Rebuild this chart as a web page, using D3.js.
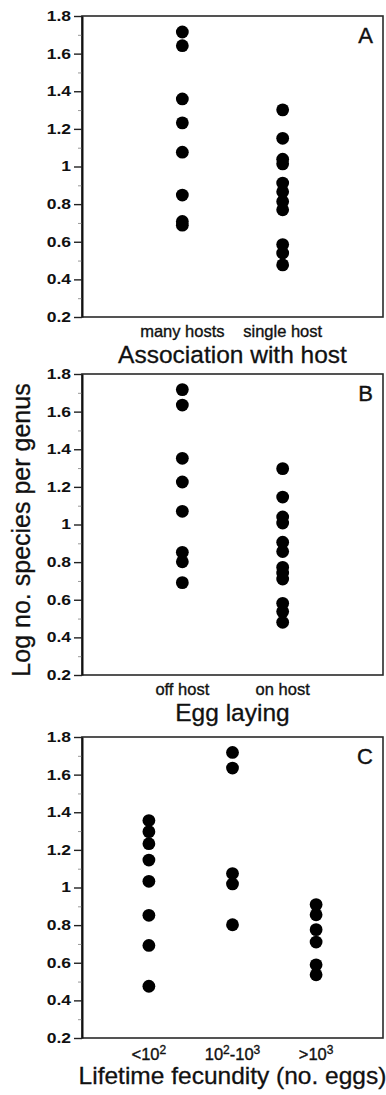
<!DOCTYPE html>
<html><head><meta charset="utf-8">
<script src="https://cdn.jsdelivr.net/npm/d3@7"></script>
<style>body{margin:0;background:#fff}svg{display:block}</style>
</head><body>
<svg id="chart" width="386" height="1095"></svg>
<script>
// ---- data ----
const yTickValues = [0.2, 0.4, 0.6, 0.8, 1.0, 1.2, 1.4, 1.6, 1.8];
const yTickLabels = ["0.2", "0.4", "0.6", "0.8", "1", "1.2", "1.4", "1.6", "1.8"];
const yMinorTicks = [0.3, 0.5, 0.7, 0.9, 1.1, 1.3, 1.5, 1.7];

const categoriesA = ["many hosts", "single host"];
const manyHosts = [1.715, 1.642, 1.359, 1.232, 1.076, 0.848, 0.708, 0.688];
const singleHost = [1.301, 1.150, 1.039, 1.014, 0.912, 0.866, 0.814, 0.770, 0.585, 0.540, 0.477];

const categoriesB = ["off host", "on host"];
const offHost = [1.717, 1.635, 1.352, 1.226, 1.070, 0.852, 0.802, 0.691];
const onHost = [1.297, 1.146, 1.040, 1.008, 0.906, 0.856, 0.772, 0.742, 0.710, 0.581, 0.537, 0.480];

const categoriesC = ["<10^2", "10^2-10^3", ">10^3"];
const fecLow = [1.356, 1.297, 1.233, 1.146, 1.033, 0.852, 0.692, 0.475];
const fecMid = [1.718, 1.635, 1.074, 1.019, 0.802];
const fecHigh = [0.909, 0.855, 0.776, 0.710, 0.589, 0.536];

const panelLetters = ["A", "B", "C"];
const xTitles = ["Association with host", "Egg laying", "Lifetime fecundity (no. eggs)"];
const yTitle = "Log no. species per genus";

// ---- layout ----
const svg = d3.select("#chart");
const left = 82, right = 383, plotH = 301;
const panels = [
  {top: 16,  cats: categoriesA, series: [manyHosts, singleHost], pad: 1.0},
  {top: 374, cats: categoriesB, series: [offHost, onHost], pad: 1.0},
  {top: 737, cats: categoriesC, series: [fecLow, fecMid, fecHigh], pad: 0.8}
];
const font = "'Liberation Sans', Arial, Helvetica, sans-serif";

panels.forEach((p, i) => {
  const g = svg.append("g");
  const y = d3.scaleLinear().domain([0.2, 1.8]).range([p.top + plotH, p.top]);
  const x = d3.scalePoint().domain(p.cats).range([left, right]).padding(p.pad);

  // frame
  g.append("rect").attr("x", left).attr("y", p.top).attr("width", right - left).attr("height", plotH)
    .attr("fill", "none").attr("stroke", "#2a2a2a").attr("stroke-width", 1.6);

  // minor ticks
  const minor = g.append("g").attr("transform", `translate(${left},0)`)
    .call(d3.axisLeft(y).tickValues(yMinorTicks).tickSize(4).tickFormat(""));
  minor.select(".domain").remove();
  minor.selectAll("line").attr("stroke", "#999").attr("stroke-width", 1);

  // major axis
  const ax = g.append("g").attr("transform", `translate(${left},0)`)
    .call(d3.axisLeft(y).tickValues(yTickValues).tickSize(8).tickSizeOuter(0).tickPadding(3)
      .tickFormat((d, k) => yTickLabels[k]));
  ax.select(".domain").attr("stroke", "#111").attr("stroke-width", 2);
  ax.selectAll(".tick line").attr("stroke", "#222").attr("stroke-width", 1.4);
  ax.selectAll(".tick text").attr("font-family", font).attr("font-size", 14).attr("font-weight", "bold")
    .attr("fill", "#111").attr("x", -11 / 1.25).attr("transform", "scale(1.25,1)");

  // points
  p.cats.forEach((c, k) => {
    g.append("g").selectAll("circle").data(p.series[k]).join("circle")
      .attr("cx", x(c)).attr("cy", d => y(d)).attr("r", 6.4).attr("fill", "#000");
  });

  // category labels
  const catY = p.top + plotH + (i === 2 ? 22 : 20);
  p.cats.forEach(c => {
    const t = g.append("text").attr("x", x(c)).attr("y", catY).attr("text-anchor", "middle")
      .attr("font-family", font).attr("font-size", 16.5).attr("fill", "#111")
      .attr("stroke", "#111").attr("stroke-width", 0.35);
    let raised = false;
    c.split(/(\^\d)/).filter(s => s.length).forEach(s => {
      if (s[0] === "^") {
        t.append("tspan").attr("dy", -6).attr("font-size", 12).text(s.slice(1));
        raised = true;
      } else {
        const ts = t.append("tspan").text(s);
        if (raised) { ts.attr("dy", 6); raised = false; }
      }
    });
  });

  // x title
  g.append("text").attr("x", (left + right) / 2).attr("y", p.top + plotH + 45.5).attr("text-anchor", "middle")
    .attr("font-family", font).attr("font-size", 24.5).attr("fill", "#111")
    .attr("stroke", "#111").attr("stroke-width", 0.3).text(xTitles[i]);

  // panel letter
  g.append("text").attr("x", right - 10).attr("y", p.top + 27).attr("text-anchor", "end")
    .attr("font-family", font).attr("font-size", 22).attr("fill", "#111")
    .attr("stroke", "#111").attr("stroke-width", 0.4).text(panelLetters[i]);
});

// y title
svg.append("text").attr("transform", "translate(30,530) rotate(-90)").attr("text-anchor", "middle")
  .attr("font-family", font).attr("font-size", 25).attr("fill", "#111")
  .attr("stroke", "#111").attr("stroke-width", 0.3).text(yTitle);
</script>
</body></html>
